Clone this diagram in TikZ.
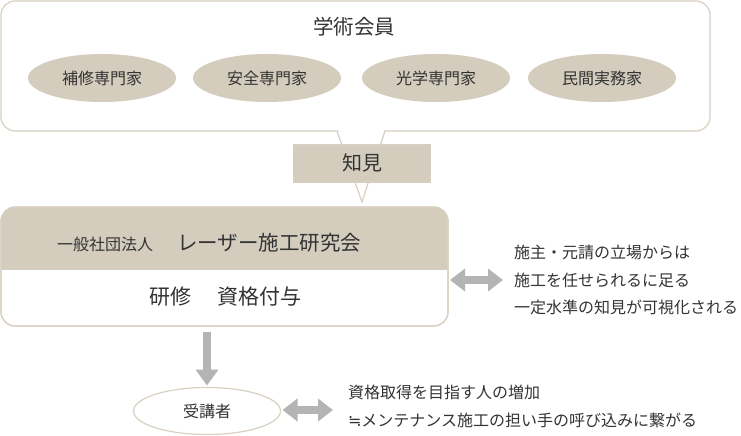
\documentclass[tikz,border=0pt]{standalone}
\usepackage{fontspec}
\setmainfont{Noto Sans CJK JP}
\newfontfamily\symfont{DejaVu Sans}
\usetikzlibrary{shapes.geometric,arrows.meta}
\definecolor{beige}{HTML}{D4CCBD}
\definecolor{edge}{HTML}{D8D0C2}
\definecolor{arrowgray}{HTML}{B4B4B4}
\definecolor{ink}{HTML}{333333}
\tikzset{
  x=1pt, y=-1pt,
  every node/.style={text=ink, inner sep=0pt, outer sep=0pt},
  expert/.style={ellipse, fill=beige, minimum width=148pt, minimum height=48pt, font=\fontsize{16}{16}\selectfont},
  panel/.style={draw=edge, line width=1.2pt, fill=white, rounded corners=14pt},
  fat/.style={draw=arrowgray, line width=8pt, -{Triangle[length=16pt,width=22pt]}},
  fatboth/.style={draw=arrowgray, line width=8pt, {Triangle[length=15pt,width=22pt]}-{Triangle[length=15pt,width=22pt]}},
  note/.style={align=left, anchor=west, font=\fontsize{16}{27.5}\selectfont},
}
\begin{document}
\begin{tikzpicture}
\useasboundingbox (0,0) rectangle (741,436);
% members panel with tail
\node[panel, minimum width=709pt, minimum height=130pt] (members) at (355.5,66) {};
\coordinate (tip) at (362,202);
\fill[white] (337.5,129) -- (tip) -- (384.5,129) -- cycle;
\draw[edge, line width=1.2pt] (337,131) -- (tip) -- (385,131);
\node[font=\fontsize{20.5}{20.5}\selectfont] (title) at (354,27) {学術会員};
\node[expert] (e1) at (102,78) {補修専門家};
\node[expert] (e2) at (267,78) {安全専門家};
\node[expert] (e3) at (436,78) {光学専門家};
\node[expert] (e4) at (602,78) {民間実務家};
% knowledge box
\node[fill=beige, draw=edge, line width=0.8pt, minimum width=137pt, minimum height=38pt, font=\fontsize{20}{20}\selectfont] (chiken) at (362,163) {知見};
% institute box
\node[panel, minimum width=447pt, minimum height=119pt,
  path picture={\fill[beige, sharp corners] (path picture bounding box.north west) rectangle ([yshift=-63pt]path picture bounding box.north east);}] (inst) at (224.5,266.5) {};
\draw[edge, line width=1.2pt, rounded corners=14pt] (inst.north west) rectangle (inst.south east);
\node[anchor=base west, font=\fontsize{16}{16}\selectfont] (org) at (57,250) {一般社団法人};
\node[anchor=base west, font=\fontsize{20.5}{20.5}\selectfont] (orgname) at (177,250) {レーザー施工研究会};
\node[font=\fontsize{21}{21}\selectfont] (train) at (225,297) {研修\hspace{26pt}資格付与};
% note 1
\node[note] (note1) at (514,280) {施主・元請の立場からは\\施工を任せられるに足る\\一定水準の知見が可視化される};
\draw[fatboth] ([xshift=2pt]inst.east |- note1.west) -- ([xshift=-11pt]note1.west);
% trainee
\node[ellipse, draw=edge, line width=1.2pt, fill=white, minimum width=147pt, minimum height=47pt, font=\fontsize{16}{16}\selectfont] (trainee) at (207,411) {受講者};
\draw[fat] ([yshift=-6pt]trainee.north |- inst.south) -- ([yshift=2pt]trainee.north);
% note 2
\node[note] (note2) at (348,406.5) {資格取得を目指す人の増加\\{\symfont ≒}メンテナンス施工の担い手の呼び込みに繋がる};
\draw[fatboth] ([xshift=2pt]trainee.east |- 0,410) -- ([xshift=-15pt]note2.west |- 0,410);
\end{tikzpicture}
\end{document}
